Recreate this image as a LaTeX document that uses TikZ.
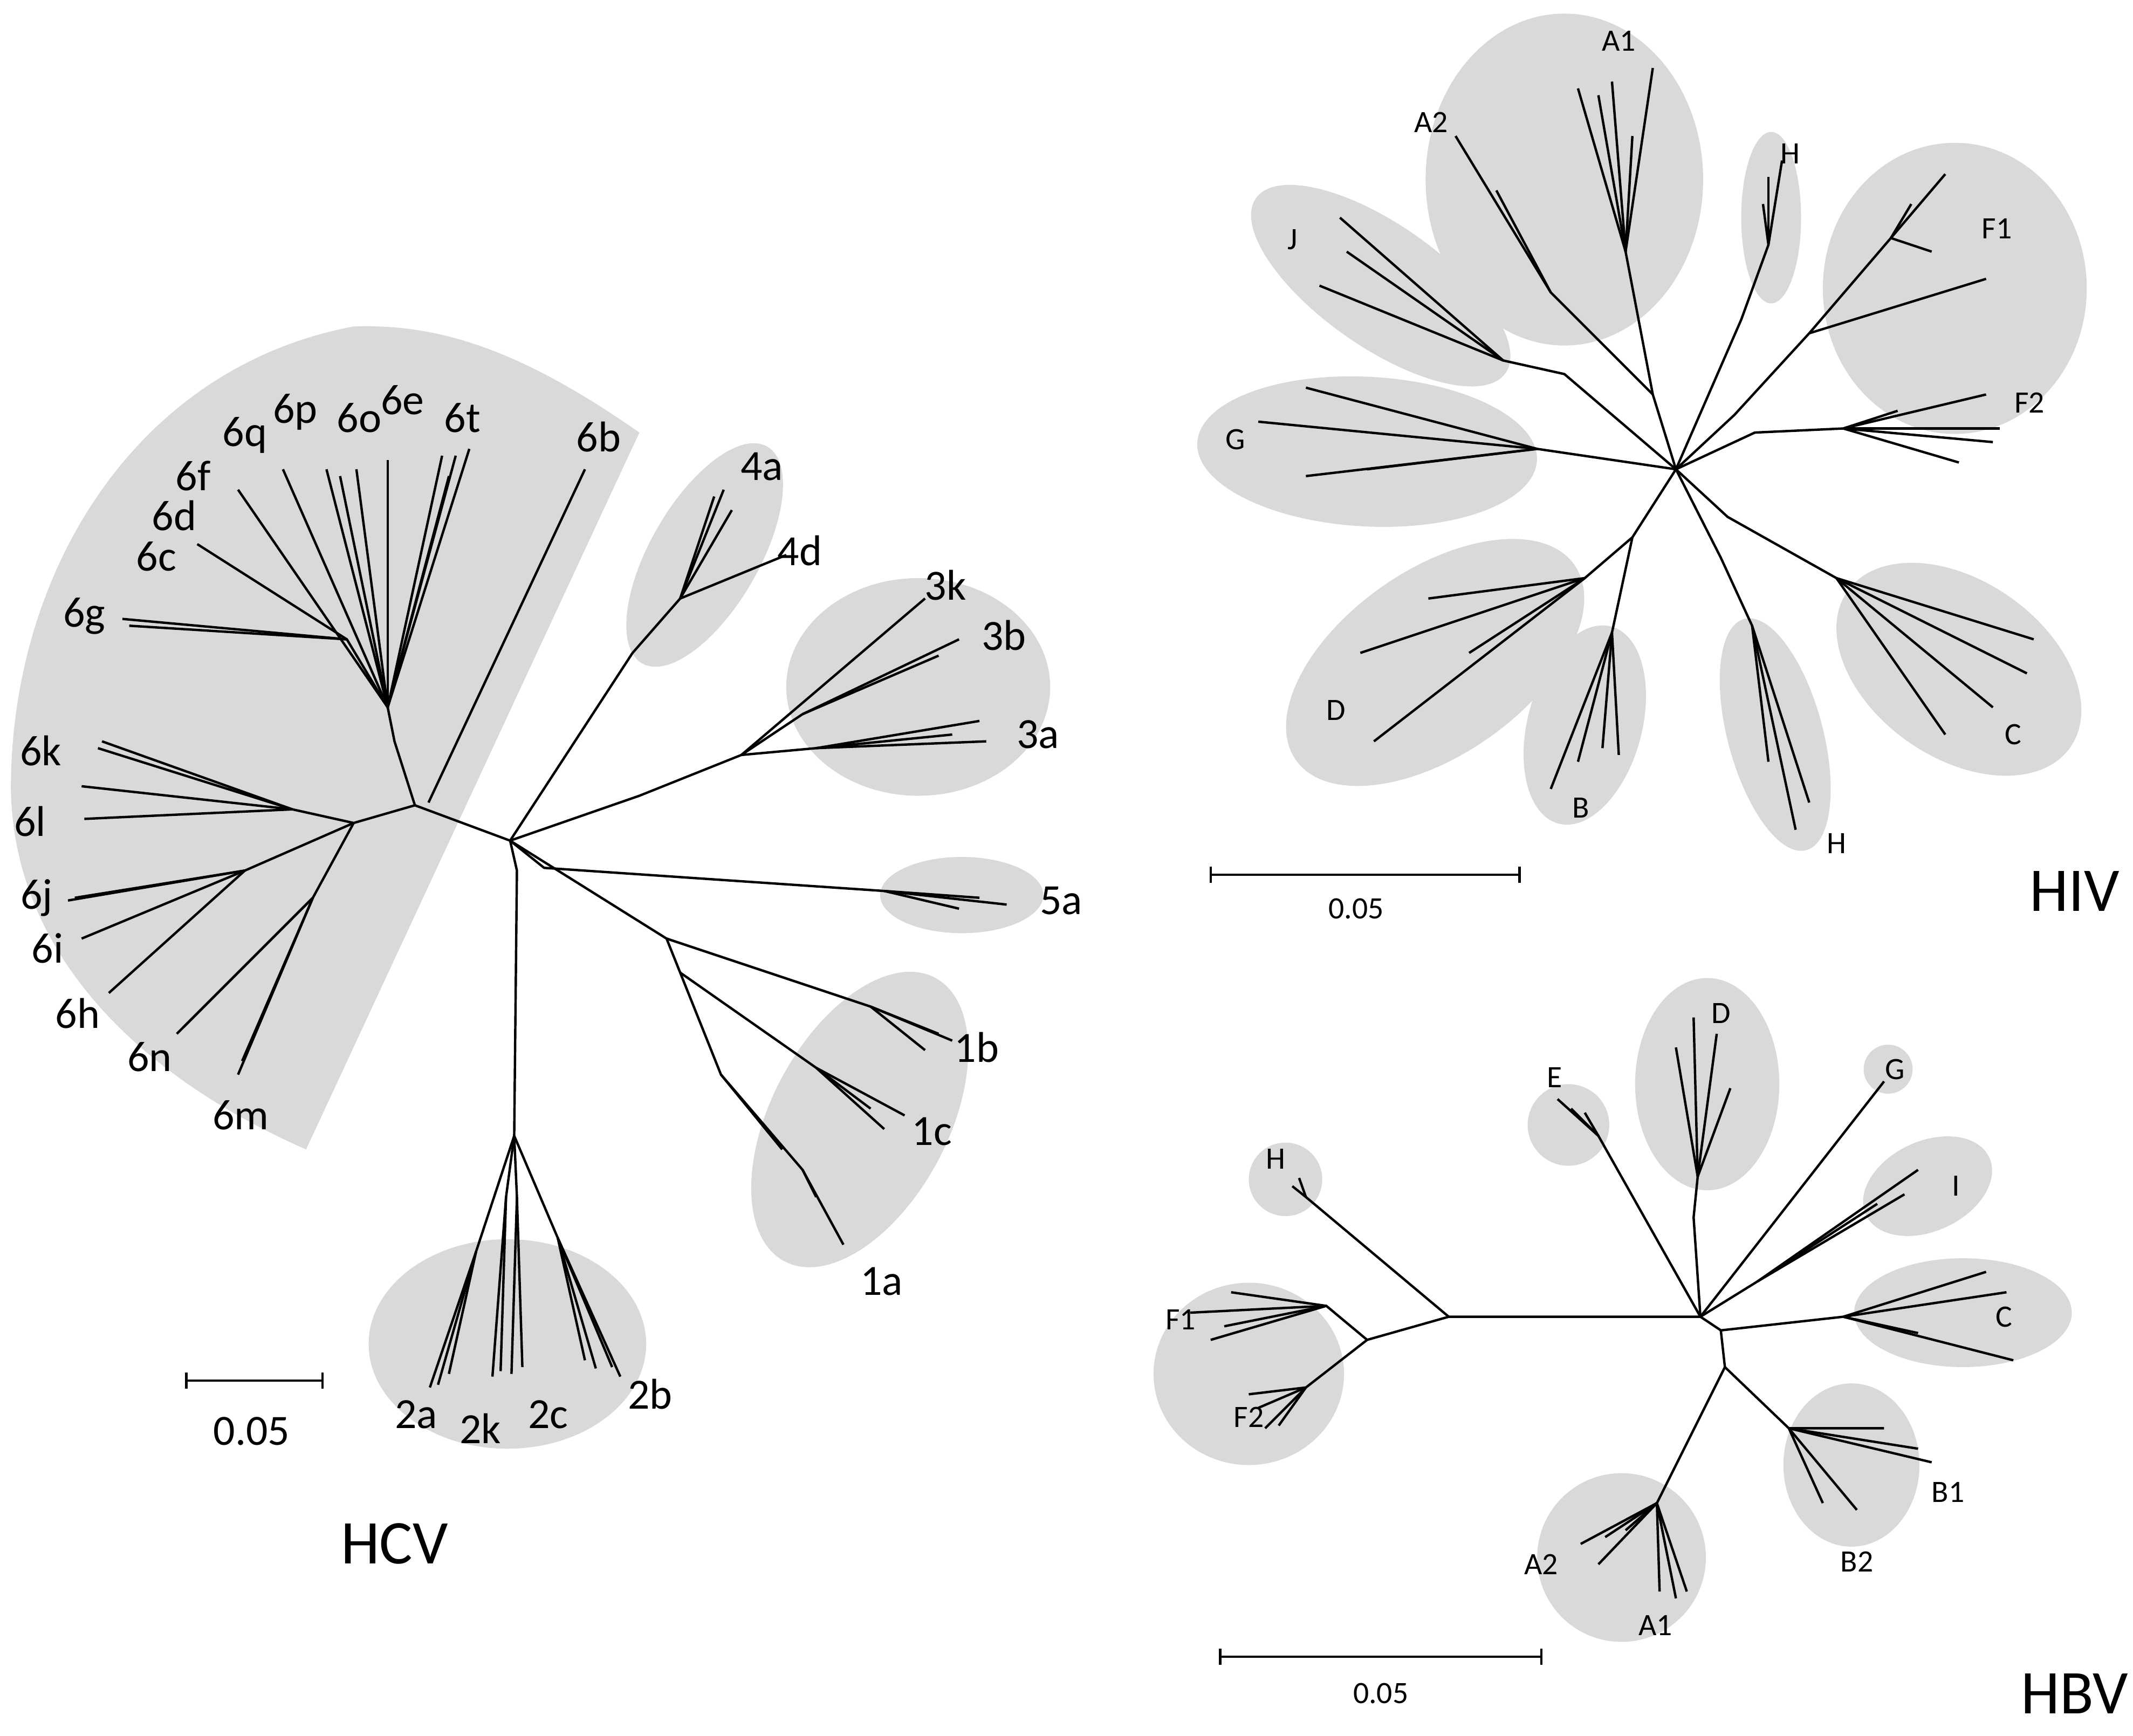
\documentclass[tikz,border=0pt]{standalone}
\usepackage{fontspec}
\setmainfont{Carlito}
\usetikzlibrary{calc}
\begin{document}
\begin{tikzpicture}[x=0.01cm,y=0.01cm,
  br/.style={line width=0.5pt,black},
  blob/.style={fill=black!15,draw=none},
  big/.style={font=\fontsize{9}{11}\selectfont,inner sep=0pt},
  sm/.style={font=\fontsize{6.5}{8}\selectfont,inner sep=0pt},
  ttl/.style={font=\fontsize{13}{15}\selectfont,inner sep=0pt}]
\useasboundingbox (0,0) rectangle (1568,-1276);
% ---------- HCV blobs
\fill[blob] (470,-318) .. controls (380,-255) and (320,-238) .. (260,-240) .. controls (100,-270) and (8,-420) .. (8,-580) .. controls (10,-700) and (100,-790) .. (225,-845) -- cycle;
\fill[blob,rotate around={60:(518,-408)}] (518,-408) ellipse (92 and 40);
\fill[blob] (675,-505) ellipse (97 and 80);
\fill[blob] (707,-658) ellipse (60 and 28);
\fill[blob,rotate around={62:(632,-823)}] (632,-823) ellipse (118 and 65);
\fill[blob] (373,-988) ellipse (102 and 77);
% ---------- HCV branches
\draw[br] (375,-618) -- (380,-640) -- (378,-835);
\draw[br] (378,-835) -- (350,-920) -- (316,-1020); \draw[br] (350,-920) -- (322,-1018); \draw[br] (350,-920) -- (330,-1010);
\draw[br] (378,-835) -- (372,-880) -- (362,-1012); \draw[br] (372,-880) -- (368,-1008);
\draw[br] (378,-835) -- (380,-880) -- (376,-1010); \draw[br] (380,-880) -- (384,-1005);
\draw[br] (378,-835) -- (410,-910) -- (430,-1000); \draw[br] (410,-910) -- (438,-1006); \draw[br] (410,-910) -- (450,-1005); \draw[br] (410,-910) -- (456,-1012);
\draw[br] (375,-618) -- (490,-690) -- (500,-715) -- (530,-790) -- (590,-860) -- (620,-915); \draw[br] (590,-860) -- (600,-880); \draw[br] (530,-790) -- (575,-845);
\draw[br] (500,-715) -- (600,-785) -- (650,-830); \draw[br] (600,-785) -- (665,-820); \draw[br] (600,-785) -- (640,-815);
\draw[br] (490,-690) -- (640,-740) -- (690,-760); \draw[br] (640,-740) -- (700,-765); \draw[br] (640,-740) -- (680,-772);
\draw[br] (375,-618) -- (400,-638) -- (650,-655) -- (740,-665); \draw[br] (650,-655) -- (705,-668); \draw[br] (650,-655) -- (720,-660);
\draw[br] (375,-618) -- (470,-585) -- (545,-555) -- (680,-440);
\draw[br] (545,-555) -- (590,-525) -- (705,-470); \draw[br] (590,-525) -- (690,-482);
\draw[br] (545,-555) -- (600,-550) -- (720,-530); \draw[br] (600,-550) -- (725,-545); \draw[br] (600,-550) -- (700,-540);
\draw[br] (375,-618) -- (465,-480) -- (500,-440) -- (525,-365); \draw[br] (500,-440) -- (532,-360); \draw[br] (500,-440) -- (538,-375); \draw[br] (500,-440) -- (578,-408);
\draw[br] (375,-618) -- (305,-592);
\draw[br] (315,-590) -- (430,-345);
\draw[br] (305,-592) -- (290,-545) -- (285,-520);
\foreach \p in {(325,-335),(335,-335),(345,-330),(330,-350),(285,-338),(262,-345),(240,-345),(250,-350),(208,-345),(175,-360)}
  \draw[br] (285,-520) -- \p;
\draw[br] (285,-520) -- (255,-470) -- (145,-400); \draw[br] (255,-470) -- (95,-460); \draw[br] (255,-470) -- (90,-455);
\draw[br] (305,-592) -- (260,-605) -- (215,-595) -- (75,-545); \draw[br] (215,-595) -- (72,-550); \draw[br] (215,-595) -- (60,-578); \draw[br] (215,-595) -- (62,-602);
\draw[br] (260,-605) -- (180,-640) -- (50,-662); \draw[br] (180,-640) -- (55,-660); \draw[br] (180,-640) -- (60,-690); \draw[br] (180,-640) -- (80,-730);
\draw[br] (260,-605) -- (230,-660) -- (130,-760); \draw[br] (230,-660) -- (135,-755); \draw[br] (230,-660) -- (175,-790); \draw[br] (230,-660) -- (178,-780);
% HCV labels
\foreach \n/\t/\x/\y in {a/4a/560/343,b/4d/588/405,c/3k/695/430,d/3b/738/467,e/3a/763/540,f/5a/780/662,g/1b/718/770,h/1c/685/832,i/1a/648/942,j/2a/306/1040,k/2k/353/1050,l/2c/403/1040,m/2b/478/1025,n/6b/440/321,o/6t/340/307,p/6e/296/294,q/6o/264/307,r/6p/217/303,s/6q/180/320,t/6f/142/350,u/6d/128/379,v/6c/115/409,w/6g/62/453,x/6k/30/552,y/6l/22/604,z/6j/27/660,A/6i/35/697,B/6h/57/745,C/6n/110/777,D/6m/177/820}
  \node[big] (hcv\n) at (\x,-\y) {\t};
\coordinate (s1a) at (137,-1015); \coordinate (s1b) at (237,-1015);
\draw[br] (s1a) -- (s1b); \draw[br] ($(s1a)+(0,6)$) -- ($(s1a)+(0,-6)$); \draw[br] ($(s1b)+(0,6)$) -- ($(s1b)+(0,-6)$);
\node[big] (hcvs) at (185,-1052) {0.05};
\node[ttl] (hcvt) at (290,-1135) {HCV};
% ---------- HIV
\fill[blob] (1150,-132) ellipse (102 and 122);
\fill[blob] (1302,-160) ellipse (22 and 63);
\fill[blob] (1437,-212) ellipse (97 and 107);
\fill[blob,rotate around={-35:(1015,-210)}] (1015,-210) ellipse (112 and 45);
\fill[blob,rotate around={-3:(1005,-332)}] (1005,-332) ellipse (125 and 55);
\fill[blob,rotate around={35:(1055,-487)}] (1055,-487) ellipse (125 and 68);
\fill[blob,rotate around={75:(1165,-533)}] (1165,-533) ellipse (75 and 42);
\fill[blob,rotate around={-75:(1305,-540)}] (1305,-540) ellipse (88 and 35);
\fill[blob,rotate around={-35:(1440,-492)}] (1440,-492) ellipse (100 and 65);
\draw[br] (1232,-345) -- (1215,-290) -- (1195,-185) -- (1160,-65); \draw[br] (1195,-185) -- (1175,-70); \draw[br] (1195,-185) -- (1185,-60); \draw[br] (1195,-185) -- (1215,-50); \draw[br] (1195,-185) -- (1200,-100);
\draw[br] (1215,-290) -- (1140,-215) -- (1070,-100); \draw[br] (1140,-215) -- (1100,-140);
\draw[br] (1232,-345) -- (1280,-235) -- (1300,-180) -- (1310,-118); \draw[br] (1300,-180) -- (1300,-130); \draw[br] (1300,-180) -- (1296,-150);
\draw[br] (1232,-345) -- (1275,-305) -- (1330,-245) -- (1390,-175) -- (1430,-128); \draw[br] (1390,-175) -- (1420,-185); \draw[br] (1390,-175) -- (1405,-150); \draw[br] (1330,-245) -- (1460,-205);
\draw[br] (1232,-345) -- (1290,-318) -- (1355,-315) -- (1460,-290); \draw[br] (1355,-315) -- (1470,-315); \draw[br] (1355,-315) -- (1465,-325); \draw[br] (1355,-315) -- (1440,-340); \draw[br] (1355,-315) -- (1395,-302);
\draw[br] (1232,-345) -- (1150,-275) -- (1105,-265) -- (985,-160); \draw[br] (1105,-265) -- (990,-185); \draw[br] (1105,-265) -- (970,-210);
\draw[br] (1232,-345) -- (1130,-330) -- (960,-285); \draw[br] (1130,-330) -- (925,-310); \draw[br] (1130,-330) -- (960,-350); \draw[br] (1130,-330) -- (1005,-345);
\draw[br] (1232,-345) -- (1200,-395) -- (1165,-425) -- (1050,-440); \draw[br] (1165,-425) -- (1000,-480); \draw[br] (1165,-425) -- (1010,-545); \draw[br] (1165,-425) -- (1080,-480);
\draw[br] (1200,-395) -- (1185,-465) -- (1140,-580); \draw[br] (1185,-465) -- (1160,-560); \draw[br] (1185,-465) -- (1178,-550); \draw[br] (1185,-465) -- (1190,-555);
\draw[br] (1232,-345) -- (1265,-410) -- (1288,-460) -- (1300,-560); \draw[br] (1288,-460) -- (1320,-610); \draw[br] (1288,-460) -- (1330,-590);
\draw[br] (1232,-345) -- (1270,-380) -- (1350,-425) -- (1495,-470); \draw[br] (1350,-425) -- (1490,-495); \draw[br] (1350,-425) -- (1430,-540); \draw[br] (1350,-425) -- (1465,-520);
\foreach \n/\t/\x/\y in {a/A1/1190/30,b/A2/1052/90,c/H/1316/113,d/F1/1468/168,e/F2/1492/296,f/J/950/176,g/G/908/323,h/D/982/522,i/B/1162/594,j/H/1350/620,k/C/1480/540}
  \node[sm] (hiv\n) at (\x,-\y) {\t};
\coordinate (s2a) at (890,-643); \coordinate (s2b) at (1117,-643);
\draw[br] (s2a) -- (s2b); \draw[br] (890,-637) -- (890,-649); \draw[br] (1117,-637) -- (1117,-649);
\node[sm] (hivs) at (997,-668) {0.05};
\node[ttl] (hivt) at (1525,-655) {HIV};
% ---------- HBV
\fill[blob] (945,-867) circle (27);
\fill[blob] (918,-1010) ellipse (70 and 67);
\fill[blob] (1153,-827) circle (30);
\fill[blob] (1255,-797) ellipse (53 and 78);
\fill[blob] (1388,-786) circle (18);
\fill[blob,rotate around={25:(1417,-872)}] (1417,-872) ellipse (50 and 33);
\fill[blob] (1443,-965) ellipse (80 and 40);
\fill[blob] (1361,-1077) ellipse (50 and 60);
\fill[blob] (1192,-1145) circle (62);
\draw[br] (1250,-968) -- (1065,-968) -- (1005,-985) -- (975,-960) -- (875,-965); \draw[br] (975,-960) -- (900,-975); \draw[br] (975,-960) -- (905,-950); \draw[br] (975,-960) -- (890,-985);
\draw[br] (1005,-985) -- (960,-1020) -- (930,-1050); \draw[br] (960,-1020) -- (940,-1048); \draw[br] (960,-1020) -- (918,-1025); \draw[br] (960,-1020) -- (925,-1035);
\draw[br] (1065,-968) -- (960,-880) -- (950,-872); \draw[br] (960,-880) -- (955,-866);
\draw[br] (1250,-968) -- (1175,-835) -- (1155,-815); \draw[br] (1175,-835) -- (1145,-808); \draw[br] (1175,-835) -- (1165,-818);
\draw[br] (1250,-968) -- (1245,-895) -- (1248,-865) -- (1232,-770); \draw[br] (1248,-865) -- (1262,-760); \draw[br] (1248,-865) -- (1272,-800); \draw[br] (1248,-865) -- (1245,-748);
\draw[br] (1250,-968) -- (1385,-795);
\draw[br] (1250,-968) -- (1292,-942) -- (1410,-860); \draw[br] (1292,-942) -- (1400,-878); \draw[br] (1292,-942) -- (1380,-885);
\draw[br] (1250,-968) -- (1265,-978) -- (1355,-968) -- (1460,-935); \draw[br] (1355,-968) -- (1475,-950); \draw[br] (1355,-968) -- (1480,-1000); \draw[br] (1355,-968) -- (1410,-980);
\draw[br] (1265,-978) -- (1268,-1005) -- (1315,-1050) -- (1385,-1050); \draw[br] (1315,-1050) -- (1410,-1065); \draw[br] (1315,-1050) -- (1420,-1075); \draw[br] (1315,-1050) -- (1365,-1110); \draw[br] (1315,-1050) -- (1340,-1105);
\draw[br] (1268,-1005) -- (1218,-1105) -- (1162,-1135); \draw[br] (1218,-1105) -- (1180,-1130); \draw[br] (1218,-1105) -- (1195,-1125); \draw[br] (1218,-1105) -- (1220,-1170); \draw[br] (1218,-1105) -- (1232,-1175); \draw[br] (1218,-1105) -- (1240,-1170); \draw[br] (1218,-1105) -- (1175,-1150);
\foreach \n/\t/\x/\y in {a/H/938/852,b/F1/868/970,c/F2/918/1042,d/E/1143/792,e/D/1265/745,f/G/1393/786,g/I/1438/872,h/C/1473/968,i/B1/1432/1097,j/B2/1365/1148,k/A2/1133/1150,l/A1/1217/1195}
  \node[sm] (hbv\n) at (\x,-\y) {\t};
\draw[br] (897,-1218) -- (1133,-1218); \draw[br] (897,-1212) -- (897,-1224); \draw[br] (1133,-1212) -- (1133,-1224);
\node[sm] (hbvs) at (1015,-1245) {0.05};
\node[ttl] (hbvt) at (1525,-1245) {HBV};
\end{tikzpicture}
\end{document}
